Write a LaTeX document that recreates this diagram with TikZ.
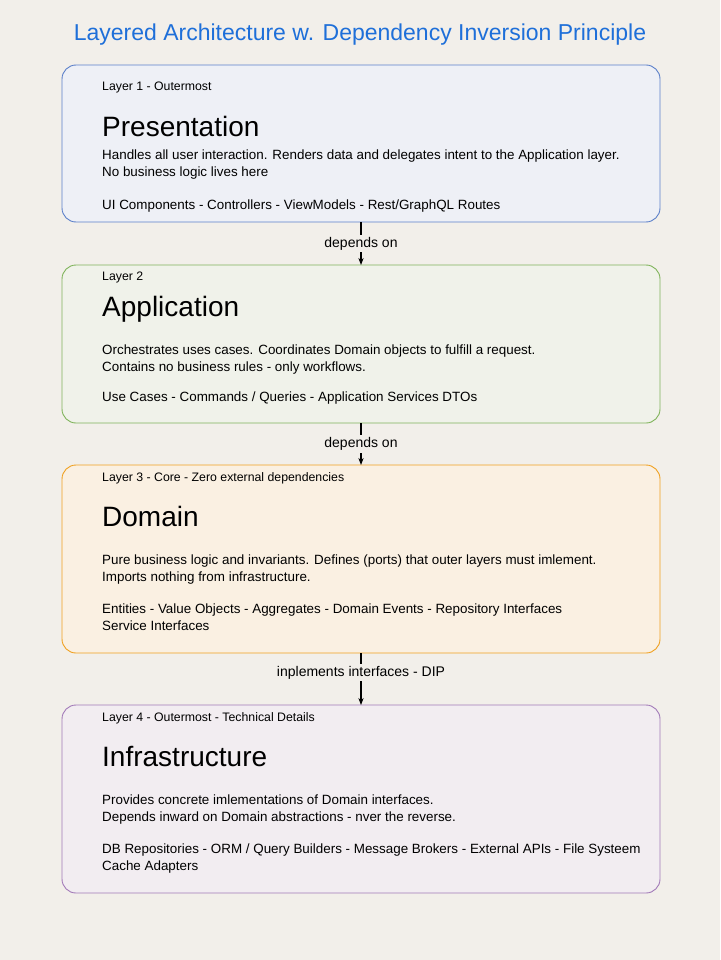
\documentclass[tikz,border=0pt]{standalone}
\usepackage{fontspec}
\setmainfont{Liberation Sans}
\usetikzlibrary{positioning, arrows.meta}
\definecolor{bgcol}{HTML}{F2EFEA}
\definecolor{titleblue}{HTML}{1E6FD9}
\definecolor{blueline}{HTML}{5B7FC9}
\definecolor{bluefill}{HTML}{EEF0F6}
\definecolor{greenline}{HTML}{7FB35A}
\definecolor{greenfill}{HTML}{F0F2EA}
\definecolor{orangeline}{HTML}{F0A020}
\definecolor{orangefill}{HTML}{FAF0E2}
\definecolor{purpleline}{HTML}{A27AB8}
\definecolor{purplefill}{HTML}{F2EDF1}
\tikzset{
  layer/.style={draw, line width=0.9pt, rounded corners=14pt},
  tag/.style={anchor=north west, inner sep=0pt, font=\fontsize{12.3}{15}\selectfont},
  heading/.style={anchor=north west, inner sep=0pt, font=\fontsize{28}{32}\selectfont},
  body/.style={anchor=north west, inner sep=0pt, align=left, font=\fontsize{13.4}{17}\selectfont},
  dep/.style={-{Stealth[length=7pt]}, line width=1.2pt},
  deplabel/.style={fill=bgcol, font=\fontsize{14}{17}\selectfont, inner sep=2pt}
}
\begin{document}
\begin{tikzpicture}[x=1pt, y=-1pt]
    \fill[bgcol] (0,0) rectangle (720,960);
    \useasboundingbox (0,0) rectangle (720,960);

    \node[titleblue, font=\fontsize{23}{27}\selectfont] (title) at (360,35) {Layered Architecture w. Dependency Inversion Principle};

    % Layer boxes
    \draw[layer, blueline, fill=bluefill] (62,65) rectangle (660,222);
    \draw[layer, greenline, fill=greenfill] (62,265) rectangle (660,423);
    \draw[layer, orangeline, fill=orangefill] (62,465) rectangle (660,653);
    \draw[layer, purpleline, fill=purplefill] (62,705) rectangle (660,893);

    \coordinate (p) at (361,222);
    \coordinate (a) at (361,265);
    \coordinate (a2) at (361,423);
    \coordinate (d) at (361,465);
    \coordinate (d2) at (361,653);
    \coordinate (i) at (361,705);

    % Presentation
    \node[tag] at (102,82) {Layer 1 - Outermost};
    \node[heading] at (102,116) {Presentation};
    \node[body] at (102,150) {Handles all user interaction. Renders data and delegates intent to the Application layer.\\No business logic lives here};
    \node[body] at (102,200) {UI Components - Controllers - ViewModels - Rest/GraphQL Routes};

    % Application
    \node[tag] at (102,272) {Layer 2};
    \node[heading] at (102,296) {Application};
    \node[body] at (102,345) {Orchestrates uses cases. Coordinates Domain objects to fulfill a request.\\Contains no business rules - only workflows.};
    \node[body] at (102,392) {Use Cases - Commands / Queries - Application Services DTOs};

    % Domain
    \node[tag] at (102,472) {Layer 3 - Core - Zero external dependencies};
    \node[heading] at (102,506) {Domain};
    \node[body] at (102,555) {Pure business logic and invariants. Defines (ports) that outer layers must imlement.\\Imports nothing from infrastructure.};
    \node[body] at (102,604) {Entities - Value Objects - Aggregates - Domain Events - Repository Interfaces\\Service Interfaces};

    % Infrastructure
    \node[tag] at (102,712) {Layer 4 - Outermost - Technical Details};
    \node[heading] at (102,746) {Infrastructure};
    \node[body] at (102,795) {Provides concrete imlementations of Domain interfaces.\\Depends inward on Domain abstractions - nver the reverse.};
    \node[body] at (102,844) {DB Repositories - ORM / Query Builders - Message Brokers - External APIs - File Systeem\\Cache Adapters};

    % Dependencies
    \draw[dep] (p) -- node[deplabel] {depends on} (a);
    \draw[dep] (a2) -- node[deplabel] {depends on} (d);
    \draw[dep] (d2) -- node[deplabel, pos=0.38] {inplements interfaces - DIP} (i);
\end{tikzpicture}
\end{document}
